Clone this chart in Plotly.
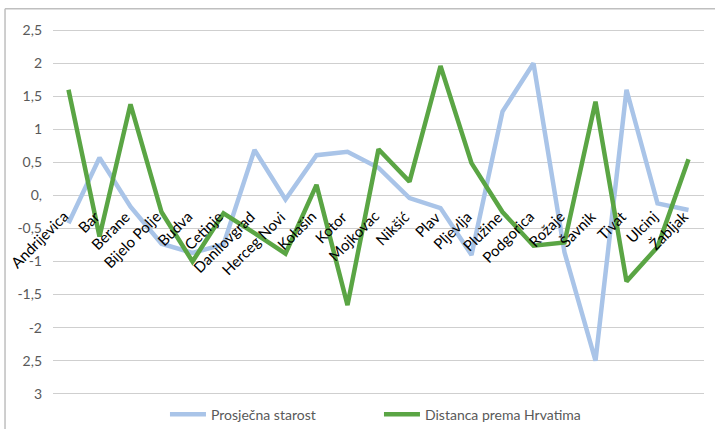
"""Prosječna starost vs. distanca prema Hrvatima po opštinama."""

import plotly.graph_objects as go

municipalities = [
    "Andrijevica", "Bar", "Berane", "Bijelo Polje", "Budva", "Cetinje",
    "Danilovgrad", "Herceg Novi", "Kolašin", "Kotor", "Mojkovac", "Nikšić",
    "Plav", "Pljevlja", "Plužine", "Podgorica", "Rožaje", "Šavnik", "Tivat",
    "Ulcinj", "Žabljak",
]
avg_age = [
    -0.42, 0.57, -0.17, -0.73, -0.87, -0.74, 0.69, -0.06, 0.61, 0.66, 0.42,
    -0.04, -0.19, -0.9, 1.27, 2.0, -0.86, -2.5, 1.6, -0.12, -0.22,
]
distance_croats = [
    1.6, -0.62, 1.38, -0.25, -1.0, -0.27, -0.57, -0.88, 0.16, -1.66, 0.7,
    0.21, 1.96, 0.49, -0.25, -0.76, -0.71, 1.42, -1.3, -0.78, 0.55,
]
y_tickvals = [2.5, 2, 1.5, 1, 0.5, 0, -0.5, -1, -1.5, -2, -2.5, -3]
y_ticktext = ["2,5", "2", "1,5", "1", "0,5", "0,", "-0,5", "-1", "-1,5", "-2", "2,5", "3"]

FONT = "Lato"
BLUE = "#A9C4E8"
GREEN = "#5AA544"
GRAY_TEXT = "#595959"

fig = go.Figure()
fig.add_trace(go.Scatter(
    x=municipalities, y=avg_age, mode="lines", name="Prosječna starost",
    line=dict(color=BLUE, width=4.5),
))
fig.add_trace(go.Scatter(
    x=municipalities, y=distance_croats, mode="lines", name="Distanca prema Hrvatima",
    line=dict(color=GREEN, width=4.5),
))

# category labels hang below the zero line, like an Excel axis crossing at 0
for name in municipalities:
    fig.add_annotation(
        x=name, y=0, text=name, showarrow=False, textangle=-45,
        xanchor="right", yanchor="top", xshift=6, yshift=-9,
        font=dict(family=FONT, size=15, color="#000000"),
    )

# chart-area border (only top and left edges are in frame)
border = dict(color="#BFBFBF", width=1.5)
fig.add_shape(type="line", xref="paper", yref="paper",
              x0=-0.0737, x1=1.02, y0=1.0495, y1=1.0495, line=border)
fig.add_shape(type="line", xref="paper", yref="paper",
              x0=-0.0737, x1=-0.0737, y0=1.0495, y1=-0.1, line=border)

fig.update_xaxes(
    showticklabels=False, showgrid=False, zeroline=False, showline=False,
    range=[-0.5, len(municipalities) - 0.5], automargin=False,
)
fig.update_yaxes(
    range=[-3.05, 2.55], tickvals=y_tickvals, ticktext=y_ticktext,
    showgrid=True, gridcolor="#CFCFCF", gridwidth=1, zeroline=False,
    showline=False, ticklabelstandoff=10, automargin=False,
    tickfont=dict(family=FONT, size=14, color=GRAY_TEXT),
)
fig.update_layout(
    width=715, height=429,
    margin=dict(l=53, r=11, t=27, b=32, autoexpand=False),
    plot_bgcolor="white", paper_bgcolor="white",
    showlegend=True,
    legend=dict(
        orientation="h", x=0.172, xanchor="left", y=-0.048, yanchor="middle",
        font=dict(family=FONT, size=14, color=GRAY_TEXT),
        itemwidth=36, entrywidth=163, entrywidthmode="pixels",
    ),
)
# drop the browser's default body margin so the figure sits at the page origin
fig.write_html(
    "out.html",
    config={"displayModeBar": False},
    post_script="document.body.style.margin='0';",
)
